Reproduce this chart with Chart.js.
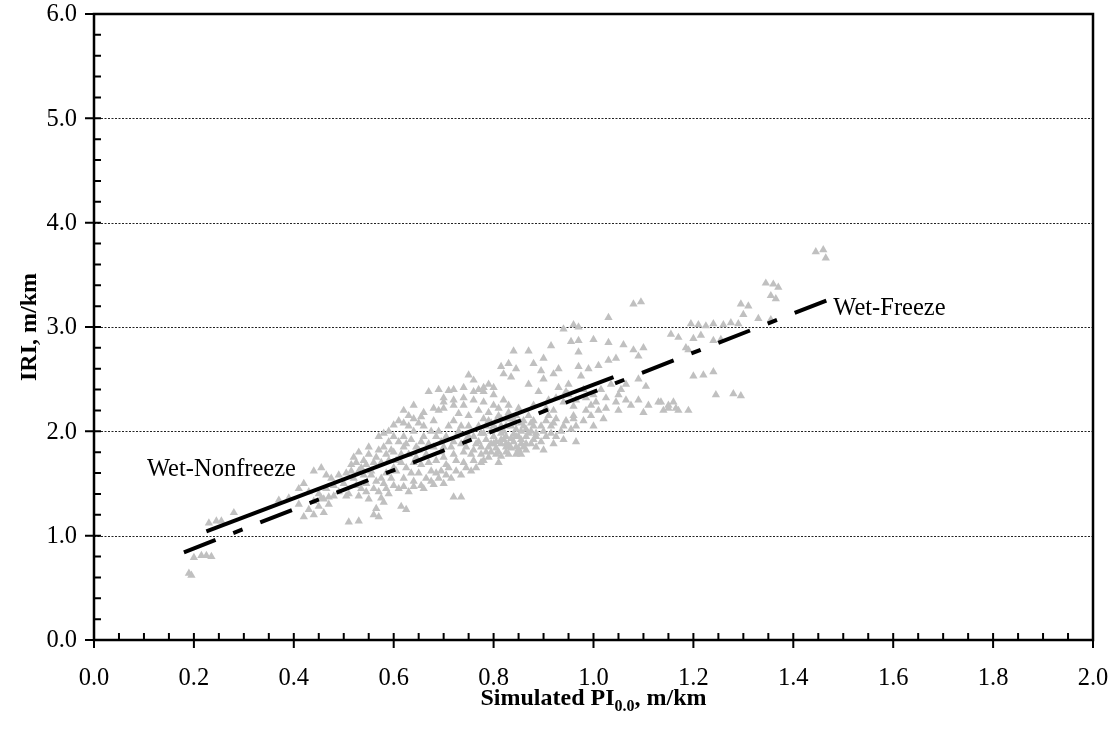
<!DOCTYPE html>
<html>
<head>
<meta charset="utf-8">
<script src="https://cdn.jsdelivr.net/npm/chart.js@4"></script>
<style>
  body { margin: 0; background: #fff; }
  #wrap { width: 1116px; height: 740px; }
</style>
</head>
<body>
<div id="wrap"><canvas id="chart" width="1116" height="740"></canvas></div>
<script>
// Simulated PI (x) and measured IRI (y) for each section, m/km
const simulatedPI = [
  0.190, 0.195, 0.200, 0.215, 0.225, 0.235, 0.230, 0.245, 0.255, 0.280,
  0.370, 0.390, 0.410, 0.420, 0.430, 0.410, 0.430, 0.440, 0.450, 0.460,
  0.420, 0.440, 0.455, 0.470, 0.440, 0.455, 0.465, 0.470, 0.480, 0.510,
  0.530, 0.520, 0.530, 0.540, 0.550, 0.560, 0.570, 0.515, 0.550, 0.490,
  0.510, 0.530, 0.550, 0.570, 0.580, 0.560, 0.560, 0.570, 0.565, 0.500,
  0.520, 0.540, 0.480, 0.530, 0.545, 0.585, 0.595, 0.600, 0.590,
  0.840, 0.815, 0.830, 0.845, 0.820, 0.835, 0.750, 0.760, 0.670, 0.690,
  0.710, 0.690, 0.700, 0.655, 0.730, 0.750, 0.600, 0.630, 0.770, 0.780,
  0.790, 0.800, 0.810, 0.820, 0.830, 0.840, 0.850, 0.800, 0.780, 0.770,
  0.780, 0.790, 0.800, 0.810, 0.820, 0.830, 0.840, 0.850, 0.790, 0.810,
  0.830, 0.760, 0.780, 0.800, 0.820, 0.840, 0.850, 0.580, 0.600, 0.610,
  0.570, 0.620, 0.660, 0.680, 0.700, 0.720, 0.740, 0.670, 0.710, 0.730,
  0.750, 0.690, 0.650, 0.690, 0.580, 0.600, 0.620, 0.640, 0.660, 0.610,
  0.735, 0.735, 0.720, 0.615, 0.625, 0.575, 0.620, 0.640, 0.680, 0.700,
  0.640, 0.630, 0.650, 0.670, 0.700, 0.720, 0.740, 0.760, 0.760, 0.770,
  0.750, 0.710, 0.680, 0.640, 0.620, 0.660, 0.720, 0.740, 0.760, 0.780,
  0.800, 0.790, 0.770, 0.720, 0.700, 0.640, 0.620, 0.590, 0.610, 0.580,
  0.775, 0.785, 0.795, 0.805, 0.815, 0.825, 0.835, 0.845, 0.855, 0.865,
  0.875, 0.795, 0.805, 0.815, 0.825, 0.835, 0.845, 0.855, 0.805, 0.815,
  0.825, 0.790, 0.810, 0.830, 0.860, 0.870, 0.880,
  1.080, 1.095, 1.030, 0.940, 0.960, 0.970, 0.955, 0.970, 1.000, 1.030,
  0.915, 0.870, 0.970, 1.060, 1.080, 1.090, 1.100, 1.030, 1.045, 0.970,
  0.990, 1.010, 0.895, 0.920, 0.975, 1.035, 1.055, 1.050, 1.090, 1.105,
  0.870, 0.890, 0.910, 0.930, 0.950, 0.880, 0.920, 0.940, 0.960, 0.995,
  1.010, 1.025, 1.050, 1.090, 1.110, 1.130, 1.150, 1.170, 1.100, 1.140,
  1.160, 0.840, 0.860, 0.880, 0.900, 0.920, 0.940, 0.960, 0.870, 0.910,
  0.860, 0.880, 0.900, 0.920, 0.850, 0.940, 0.965, 0.960, 0.980, 1.000,
  1.020, 0.900, 0.950, 0.980, 1.000, 0.930, 0.880, 0.900,
  1.445, 1.460, 1.465, 1.345, 1.360, 1.370, 1.355, 1.365, 1.295, 1.310,
  1.300, 1.330, 1.355, 1.290, 1.195, 1.210, 1.225, 1.240, 1.260, 1.275,
  1.155, 1.170, 1.200, 1.215, 1.240, 1.255, 1.185, 1.190, 1.200, 1.220,
  1.240, 1.245, 1.280, 1.295, 1.135, 1.150, 1.165, 1.190,
  0.505, 0.515, 0.525, 0.535, 0.545, 0.555, 0.565, 0.575, 0.585, 0.595,
  0.535, 0.545, 0.525, 0.505, 0.575, 0.565, 0.555, 0.585, 0.590, 0.465,
  0.475, 0.490, 0.450, 0.460, 0.605, 0.615, 0.625, 0.635, 0.645, 0.655,
  0.665, 0.675, 0.685, 0.695, 0.705, 0.715, 0.725, 0.735, 0.745, 0.755,
  0.765, 0.705, 0.695, 0.685, 0.675, 0.725, 0.735, 0.745, 0.655, 0.645,
  0.635, 0.625, 0.615, 0.605, 0.665, 0.675, 0.685, 0.695, 0.705, 0.715,
  0.725, 0.745, 0.755, 0.765, 0.775, 0.655, 0.630, 0.775, 0.785, 0.795,
  0.805, 0.815, 0.825, 0.835, 0.845, 0.855, 0.865, 0.875, 0.885, 0.895,
  0.905, 0.915, 0.925, 0.935, 0.945, 0.955, 0.775, 0.785, 0.795, 0.805,
  0.815, 0.825, 0.835, 0.845, 0.855, 0.865, 0.875, 0.885, 0.895, 0.905,
  0.915, 0.925, 0.815, 0.825, 0.845, 0.855, 0.865, 0.885, 0.620, 0.640,
  0.660, 0.680, 0.700, 0.720, 0.740, 0.760, 0.780, 0.800, 0.740, 0.720,
  0.650, 0.630, 0.600, 0.590, 0.905, 0.925, 0.945, 0.965, 0.985, 1.005,
  1.015, 1.025, 1.065, 1.075, 1.065, 0.985, 0.965, 0.995, 1.045
];
const iri = [
  0.64, 0.62, 0.79, 0.81, 0.81, 0.80, 1.12, 1.14, 1.14, 1.22,
  1.34, 1.36, 1.45, 1.50, 1.42, 1.30, 1.25, 1.20, 1.28, 1.22,
  1.18, 1.33, 1.36, 1.30, 1.62, 1.65, 1.58, 1.37, 1.38, 1.13,
  1.14, 1.75, 1.80, 1.72, 1.78, 1.70, 1.82, 1.68, 1.85, 1.42,
  1.40, 1.38, 1.35, 1.42, 1.32, 1.45, 1.20, 1.18, 1.26, 1.50,
  1.55, 1.58, 1.48, 1.62, 1.50, 1.60, 1.55, 1.65, 1.72,
  2.77, 2.62, 2.65, 2.60, 2.55, 2.52, 2.54, 2.49, 2.38, 2.40,
  2.39, 2.20, 2.22, 2.14, 2.17, 2.15, 2.06, 2.05, 2.20, 2.28,
  2.10, 2.25, 2.15, 2.30, 2.18, 2.08, 2.22, 2.05, 2.12, 1.90,
  1.98, 1.85, 1.95, 1.80, 1.92, 1.87, 1.97, 1.83, 1.75, 1.70,
  1.78, 1.82, 1.72, 1.88, 2.00, 1.90, 1.95, 1.85, 1.80, 1.90,
  1.95, 1.85, 1.95, 1.85, 1.75, 1.90, 1.80, 1.70, 1.65, 2.00,
  1.95, 2.00, 1.60, 1.55, 1.50, 1.48, 1.55, 1.52, 1.45, 1.45,
  1.58, 1.37, 1.37, 1.28, 1.25, 1.36, 1.47, 1.47, 1.49, 1.50,
  1.70, 1.78, 1.82, 1.88, 1.85, 1.78, 1.70, 1.72, 1.95, 2.05,
  2.05, 2.05, 2.10, 2.00, 1.95, 2.05, 2.10, 2.25, 2.30, 2.38,
  2.35, 2.45, 2.40, 2.30, 2.32, 2.25, 2.20, 2.00, 2.10, 1.98,
  1.85, 1.92, 2.00, 1.90, 1.98, 1.85, 1.93, 2.02, 1.88, 1.95,
  2.00, 1.80, 1.78, 1.88, 1.95, 2.05, 1.85, 2.00, 2.10, 2.05,
  2.12, 2.18, 2.22, 2.25, 2.10, 2.15, 2.05,
  3.22, 3.24, 3.09, 2.98, 3.02, 3.00, 2.86, 2.87, 2.88, 2.85,
  2.82, 2.77, 2.76, 2.83, 2.78, 2.72, 2.80, 2.68, 2.70, 2.62,
  2.60, 2.63, 2.58, 2.55, 2.53, 2.45, 2.40, 2.35, 2.50, 2.43,
  2.45, 2.38, 2.30, 2.42, 2.35, 2.25, 2.20, 2.28, 2.24, 2.25,
  2.20, 2.22, 2.20, 2.30, 2.25, 2.28, 2.22, 2.20, 2.18, 2.20,
  2.28, 2.12, 2.05, 2.10, 2.00, 2.08, 2.05, 2.15, 1.98, 2.15,
  1.85, 1.92, 1.82, 1.88, 1.80, 1.92, 1.90, 2.12, 2.10, 2.05,
  2.12, 2.50, 2.45, 2.40, 2.35, 2.60, 2.65, 2.70,
  3.72, 3.74, 3.66, 3.42, 3.41, 3.38, 3.30, 3.27, 3.22, 3.20,
  3.12, 3.08, 3.07, 3.03, 3.03, 3.02, 3.01, 3.03, 3.02, 3.04,
  2.93, 2.90, 2.89, 2.92, 2.87, 2.88, 2.80, 2.78, 2.53, 2.54,
  2.57, 2.35, 2.36, 2.34, 2.28, 2.25, 2.22, 2.20,
  1.60, 1.62, 1.70, 1.65, 1.68, 1.62, 1.75, 1.70, 1.78, 1.82,
  1.45, 1.42, 1.48, 1.38, 1.55, 1.52, 1.58, 1.45, 1.40, 1.45,
  1.55, 1.58, 1.40, 1.35, 1.62, 1.70, 1.65, 1.60, 1.75, 1.68,
  1.78, 1.62, 1.72, 1.80, 1.68, 1.85, 1.72, 1.88, 1.85, 1.78,
  1.88, 1.95, 1.90, 1.95, 2.00, 1.95, 2.05, 1.92, 1.90, 1.85,
  1.92, 1.88, 1.78, 1.72, 1.55, 1.52, 1.60, 1.62, 1.58, 1.55,
  1.62, 1.65, 1.62, 1.65, 1.70, 1.48, 1.42, 1.78, 1.80, 1.88,
  1.84, 1.76, 1.80, 1.84, 1.78, 1.78, 1.82, 1.88, 1.85, 1.90,
  1.95, 1.98, 1.95, 2.00, 2.10, 2.02, 1.98, 2.05, 2.08, 2.02,
  2.12, 2.05, 2.12, 2.15, 2.08, 2.02, 2.08, 1.98, 2.05, 2.10,
  2.05, 2.12, 1.92, 1.88, 1.95, 1.92, 1.88, 1.95, 2.08, 2.12,
  2.18, 2.22, 2.28, 2.25, 2.32, 2.38, 2.42, 2.42, 2.42, 2.40,
  2.08, 2.15, 1.95, 1.90, 2.22, 2.32, 2.38, 2.30, 2.32, 2.28,
  2.40, 2.32, 2.30, 2.25, 2.45, 2.20, 2.05, 2.15, 2.28
];

// Fitted trend lines: end points (x = PI, y = IRI)
const nonfreezePI = [0.225, 1.04];
const nonfreezeIRI = [1.04, 2.52];
const freezePI = [0.18, 1.475];
const freezeIRI = [0.84, 3.27];

// Axis ticks
const xMajorTicks = [0, 0.2, 0.4, 0.6, 0.8, 1.0, 1.2, 1.4, 1.6, 1.8, 2.0];
const yMajorTicks = [0, 1, 2, 3, 4, 5, 6];

const toPoints = (xs, ys) => xs.map((x, i) => ({ x, y: ys[i] }));

const serif = '"Liberation Serif", "Times New Roman", serif';

// Axes, ticks, grid lines and text drawn from the chart's own scales
const frame = {
  id: "frame",
  beforeDatasetsDraw(chart) {
    const { ctx, chartArea: a, scales: { y } } = chart;
    ctx.save();
    ctx.strokeStyle = "#222";
    ctx.lineWidth = 1;
    ctx.setLineDash([2, 1.5]);
    yMajorTicks.slice(1, -1).forEach((v) => {
      const py = Math.round(y.getPixelForValue(v)) + 0.5;
      ctx.beginPath();
      ctx.moveTo(a.left, py);
      ctx.lineTo(a.right, py);
      ctx.stroke();
    });
    ctx.restore();
  },
  afterDraw(chart) {
    const { ctx, chartArea: a, scales: { x, y } } = chart;
    ctx.save();
    ctx.strokeStyle = "#000";
    ctx.fillStyle = "#000";

    // minor and major ticks
    ctx.lineWidth = 2;
    ctx.beginPath();
    for (let i = 1; i < 40; i++) {
      const px = x.getPixelForValue(i * 0.05);
      ctx.moveTo(px, a.bottom - 7);
      ctx.lineTo(px, i % 4 === 0 ? a.bottom + 8 : a.bottom);
    }
    ctx.moveTo(a.left, a.bottom);
    ctx.lineTo(a.left, a.bottom + 8);
    ctx.moveTo(a.right, a.bottom);
    ctx.lineTo(a.right, a.bottom + 8);
    for (let i = 1; i < 30; i++) {
      const py = y.getPixelForValue(i * 0.2);
      ctx.moveTo(i % 5 === 0 ? a.left - 9 : a.left, py);
      ctx.lineTo(a.left + 7, py);
    }
    ctx.moveTo(a.left - 9, a.top);
    ctx.lineTo(a.left, a.top);
    ctx.moveTo(a.left - 9, a.bottom);
    ctx.lineTo(a.left, a.bottom);
    ctx.stroke();

    // plot frame
    ctx.lineWidth = 2.5;
    ctx.strokeRect(a.left, a.top, a.right - a.left, a.bottom - a.top);

    // tick labels
    ctx.font = `24.5px ${serif}`;
    ctx.textAlign = "right";
    ctx.textBaseline = "middle";
    yMajorTicks.forEach((v) => {
      ctx.fillText(v.toFixed(1), a.left - 17, y.getPixelForValue(v) + 1);
    });
    ctx.textAlign = "center";
    xMajorTicks.forEach((v) => {
      ctx.fillText(v.toFixed(1), x.getPixelForValue(v), a.bottom + 39);
    });

    // line labels
    ctx.textAlign = "left";
    ctx.textBaseline = "alphabetic";
    ctx.fillText("Wet-Nonfreeze", x.getPixelForValue(0.106), y.getPixelForValue(1.57));
    ctx.fillText("Wet-Freeze", x.getPixelForValue(1.48), y.getPixelForValue(3.115));

    // x axis title with subscript
    const cx = (a.left + a.right) / 2;
    const big = `bold 24px ${serif}`;
    const small = `bold 16px ${serif}`;
    const parts = [
      ["Simulated PI", big, 0],
      ["0.0", small, 6],
      [", m/km", big, 0],
    ];
    let total = 0;
    parts.forEach(([t, f]) => { ctx.font = f; total += ctx.measureText(t).width; });
    let tx = cx - total / 2;
    parts.forEach(([t, f, dy]) => {
      ctx.font = f;
      ctx.fillText(t, tx, a.bottom + 65 + dy);
      tx += ctx.measureText(t).width;
    });

    // y axis title
    ctx.font = big;
    ctx.translate(30, (a.top + a.bottom) / 2);
    ctx.rotate(-Math.PI / 2);
    ctx.textAlign = "center";
    ctx.textBaseline = "middle";
    ctx.fillText("IRI, m/km", 0, 0);
    ctx.restore();
  },
};

new Chart(document.getElementById("chart"), {
  type: "scatter",
  data: {
    datasets: [
      {
        label: "Wet-Nonfreeze",
        data: toPoints(nonfreezePI, nonfreezeIRI),
        showLine: true,
        borderColor: "#000",
        borderWidth: 4,
        pointRadius: 0,
        borderCapStyle: "butt",
      },
      {
        label: "Wet-Freeze",
        data: toPoints(freezePI, freezeIRI),
        showLine: true,
        borderColor: "#000",
        borderWidth: 4,
        borderDash: [34, 19, 10, 19],
        pointRadius: 0,
        borderCapStyle: "butt",
      },
      {
        label: "Sections",
        data: toPoints(simulatedPI, iri),
        pointStyle: "triangle",
        pointRadius: 4.8,
        pointBackgroundColor: "#c0c0c0",
        pointBorderWidth: 0,
        borderWidth: 0,
      },
    ],
  },
  options: {
    responsive: false,
    animation: false,
    layout: { padding: { left: 94, right: 23, top: 14, bottom: 100 } },
    plugins: { legend: { display: false }, tooltip: { enabled: false } },
    scales: {
      x: { type: "linear", min: 0, max: 2, display: false },
      y: { type: "linear", min: 0, max: 6, display: false },
    },
  },
  plugins: [frame],
});
</script>
</body>
</html>
